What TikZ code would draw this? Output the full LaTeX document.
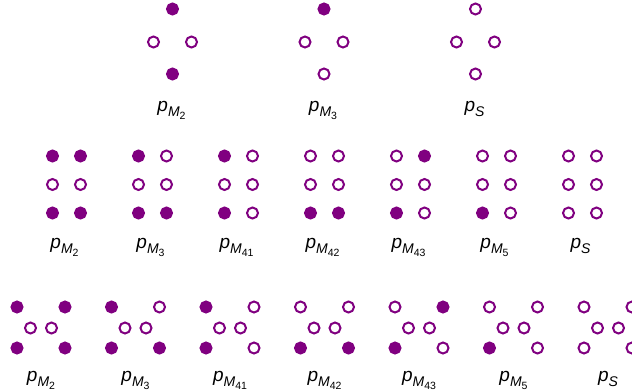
\documentclass[tikz,border=0pt]{standalone}
\usepackage{fontspec}
\setmainfont{Liberation Sans}
\definecolor{dotc}{RGB}{128,0,128}
\colorlet{F}{dotc}
\colorlet{O}{white}
\newcommand\plab[1]{\textit{p}\raisebox{-5pt}{\fontsize{14}{14}\selectfont #1}}
\newcommand\msub[1]{\textit{M}\raisebox{-3pt}{\fontsize{10.5}{10.5}\selectfont #1}}
\tikzset{
  dotn/.style={circle,draw=dotc,line width=2pt,minimum size=11pt,inner sep=0pt},
  lab/.style={anchor=base,inner sep=0pt,font=\fontsize{19}{19}\selectfont}
}
\begin{document}
\begin{tikzpicture}[x=1pt,y=-1pt]
\useasboundingbox (0,0) rectangle (632,391);
% row 1
\foreach \cx/\t/\l/\r/\b/\txt [count=\i] in {
  172.5/F/O/O/F/{\plab{\msub{2}}},
  324/F/O/O/O/{\plab{\msub{3}}},
  475.5/O/O/O/O/{\plab{\textit{S}}}} {
  \node[dotn,fill=\t] (a\i-t) at (\cx,9) {};
  \node[dotn,fill=\l] (a\i-l) at (\cx-19,42) {};
  \node[dotn,fill=\r] (a\i-r) at (\cx+19,42) {};
  \node[dotn,fill=\b] (a\i-b) at (\cx,74) {};
  \node[lab] (a\i-lab) at (\cx-1,111) {\txt};
}
% row 2 and row 3 patterns: TL TR ML MR BL BR
\foreach \tl/\tr/\ml/\mr/\bl/\br/\txt [count=\i] in {
  F/F/O/O/F/F/{\plab{\msub{2}}},
  F/O/O/O/F/F/{\plab{\msub{3}}},
  F/O/O/O/F/O/{\plab{\msub{41}}},
  O/O/O/O/F/F/{\plab{\msub{42}}},
  O/F/O/O/F/O/{\plab{\msub{43}}},
  O/O/O/O/F/O/{\plab{\msub{5}}},
  O/O/O/O/O/O/{\plab{\textit{S}}}} {
  \pgfmathsetmacro\cx{66.5+86*(\i-1)}
  \node[dotn,fill=\tl] (b\i-tl) at (\cx-14,156) {};
  \node[dotn,fill=\tr] (b\i-tr) at (\cx+14,156) {};
  \node[dotn,fill=\ml] (b\i-ml) at (\cx-14,184.5) {};
  \node[dotn,fill=\mr] (b\i-mr) at (\cx+14,184.5) {};
  \node[dotn,fill=\bl] (b\i-bl) at (\cx-14,213) {};
  \node[dotn,fill=\br] (b\i-br) at (\cx+14,213) {};
  \node[lab] (b\i-lab) at (\cx-2,248) {\txt};
  \pgfmathsetmacro\dx{41+94.5*(\i-1)}
  \node[dotn,fill=\tl] (c\i-tl) at (\dx-24,307) {};
  \node[dotn,fill=\tr] (c\i-tr) at (\dx+24,307) {};
  \node[dotn,fill=\ml] (c\i-ml) at (\dx-10.5,328) {};
  \node[dotn,fill=\mr] (c\i-mr) at (\dx+10.5,328) {};
  \node[dotn,fill=\bl] (c\i-bl) at (\dx-24,348) {};
  \node[dotn,fill=\br] (c\i-br) at (\dx+24,348) {};
  \node[lab] (c\i-lab) at (\dx,381) {\txt};
}
\end{tikzpicture}
\end{document}
